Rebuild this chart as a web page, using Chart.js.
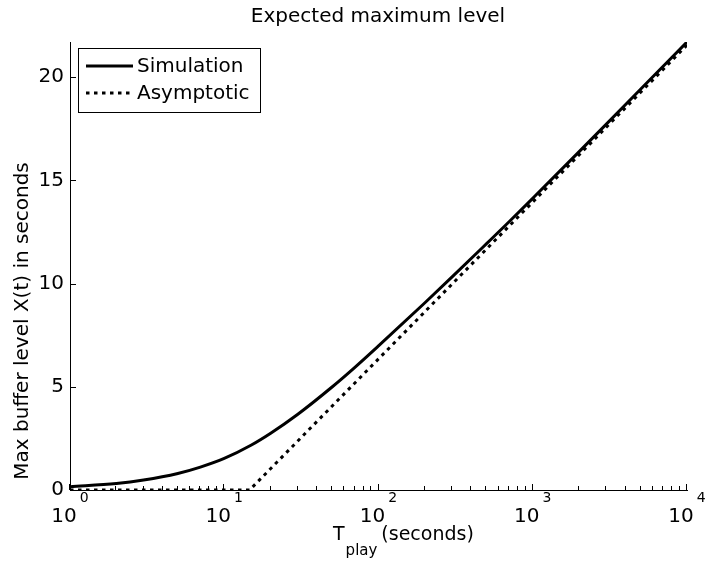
<!DOCTYPE html>
<html lang="en">
<head>
<meta charset="UTF-8">
<title>Expected maximum level</title>
<script src="https://cdn.jsdelivr.net/npm/chart.js@4.4.0/dist/chart.umd.min.js"></script>
<style>
  html, body { margin: 0; padding: 0; background: #fff; }
  #chart { display: block; }
</style>
</head>
<body>
<canvas id="chart" width="705" height="568"></canvas>
<script>
// values
const simX = [1, 2, 3, 5, 7, 10, 15, 20, 30, 50, 70, 100, 200, 300, 500, 700, 1000, 2000, 3000, 5000, 10000];
const simY = [0.16, 0.31, 0.48, 0.80, 1.11, 1.53, 2.18, 2.75, 3.67, 4.99, 5.93, 6.98, 9.07, 10.32, 11.92, 12.98, 14.13, 16.39, 17.72, 19.41, 21.70];
const asymX = [1, 14.6, 100, 1000, 10000];
const asymY = [0, 0, 6.35, 13.95, 21.55];
const yTicks = [0, 5, 10, 15, 20];
const xExponents = [0, 1, 2, 3, 4];
const seriesNames = ['Simulation', 'Asymptotic'];

const FONT = '"DejaVu Sans", Verdana, sans-serif';
const xMin = 1, xMax = 10000, yMin = 0, yMax = 21.70;

// minor ticks 2..9 in every decade
const minorTicks = [];
for (let e = 0; e < 4; e++) {
    for (let m = 2; m <= 9; m++) minorTicks.push(m * Math.pow(10, e));
}

// MATLAB-like decorations: inward ticks, 10^n labels, titles, legend box
const matlabAxes = {
    id: 'matlabAxes',
    afterDraw(chart) {
        const ctx = chart.ctx;
        const xs = chart.scales.x, ys = chart.scales.y, a = chart.chartArea;
        ctx.save();
        ctx.strokeStyle = '#000';
        ctx.lineWidth = 1;
        ctx.beginPath();
        yTicks.forEach(v => {
            const py = Math.round(ys.getPixelForValue(v)) + 0.5;
            ctx.moveTo(a.left, py);
            ctx.lineTo(a.left + 6, py);
        });
        xExponents.forEach(e => {
            const px = Math.round(xs.getPixelForValue(Math.pow(10, e))) - 0.5;
            ctx.moveTo(px, a.bottom);
            ctx.lineTo(px, a.bottom - 6);
        });
        minorTicks.forEach(v => {
            const px = Math.round(xs.getPixelForValue(v)) - 0.5;
            ctx.moveTo(px, a.bottom);
            ctx.lineTo(px, a.bottom - 4);
        });
        ctx.stroke();

        ctx.fillStyle = '#000';
        ctx.textBaseline = 'alphabetic';

        // x tick labels 10^n
        xExponents.forEach(e => {
            const px = xs.getPixelForValue(Math.pow(10, e));
            ctx.font = '20px ' + FONT;
            const w10 = ctx.measureText('10').width;
            ctx.font = '14px ' + FONT;
            const we = ctx.measureText(String(e)).width;
            const left = px - (w10 + 3 + we) / 2;
            ctx.font = '20px ' + FONT;
            ctx.textAlign = 'left';
            ctx.fillText('10', left, 522);
            ctx.font = '14px ' + FONT;
            ctx.fillText(String(e), left + w10 + 3, 502);
        });

        // title
        ctx.font = '20px ' + FONT;
        ctx.textAlign = 'center';
        ctx.fillText('Expected maximum level', 378, 22);

        // x axis title with subscript
        ctx.textAlign = 'left';
        ctx.font = '19px ' + FONT;
        const wT = ctx.measureText('T').width;
        ctx.font = '15px ' + FONT;
        const wSub = ctx.measureText('play').width;
        const tx = 333;
        ctx.font = '19px ' + FONT;
        ctx.fillText('T', tx, 540);
        ctx.font = '15px ' + FONT;
        ctx.fillText('play', tx + wT + 1, 555);
        ctx.font = '19px ' + FONT;
        ctx.fillText('(seconds)', tx + wT + wSub + 5, 540);

        // y axis title
        ctx.save();
        ctx.translate(28, 321);
        ctx.rotate(-Math.PI / 2);
        ctx.textAlign = 'center';
        ctx.font = '20px ' + FONT;
        ctx.fillText('Max buffer level X(t) in seconds', 0, 0);
        ctx.restore();

        // legend
        ctx.fillStyle = '#fff';
        ctx.fillRect(78.5, 48.5, 182, 64);
        ctx.strokeStyle = '#000';
        ctx.lineWidth = 1;
        ctx.strokeRect(78.5, 48.5, 182, 64);
        const rows = [66, 93];
        chart.data.datasets.forEach((ds, i) => {
            ctx.beginPath();
            ctx.strokeStyle = '#000';
            ctx.lineWidth = ds.borderWidth;
            ctx.setLineDash(ds.borderDash || []);
            ctx.moveTo(86, rows[i]);
            ctx.lineTo(133, rows[i]);
            ctx.stroke();
            ctx.setLineDash([]);
            ctx.fillStyle = '#000';
            ctx.font = '20px ' + FONT;
            ctx.textAlign = 'left';
            ctx.textBaseline = 'middle';
            ctx.fillText(seriesNames[i], 137, rows[i] + 1);
        });
        ctx.restore();
    }
};

new Chart(document.getElementById('chart'), {
    type: 'line',
    data: {
        datasets: [{
            label: seriesNames[0],
            data: simX.map((x, i) => ({ x: x, y: simY[i] })),
            borderColor: '#000',
            borderWidth: 3,
            pointRadius: 0,
            cubicInterpolationMode: 'monotone',
            fill: false
        }, {
            label: seriesNames[1],
            data: asymX.map((x, i) => ({ x: x, y: asymY[i] })),
            borderColor: '#000',
            borderWidth: 3,
            borderDash: [3.5, 4.5],
            pointRadius: 0,
            tension: 0,
            fill: false
        }]
    },
    options: {
        responsive: false,
        animation: false,
        layout: { padding: { top: 42, right: 18, left: 0, bottom: 0 } },
        plugins: {
            legend: { display: false },
            title: { display: false },
            tooltip: { enabled: false }
        },
        scales: {
            x: {
                type: 'logarithmic',
                min: xMin,
                max: xMax,
                grid: { display: false, drawTicks: false },
                border: { display: true, color: '#000', width: 1 },
                ticks: { display: false },
                afterFit(scale) { scale.height = 78; }
            },
            y: {
                type: 'linear',
                min: yMin,
                max: yMax,
                grid: { display: false, drawTicks: false },
                border: { display: true, color: '#000', width: 1 },
                afterBuildTicks(scale) { scale.ticks = yTicks.map(v => ({ value: v })); },
                ticks: {
                    color: '#000',
                    padding: 6,
                    font: { family: FONT, size: 20 },
                    callback: v => String(v)
                },
                afterFit(scale) { scale.width = 70; }
            }
        }
    },
    plugins: [matlabAxes]
});
</script>
</body>
</html>
